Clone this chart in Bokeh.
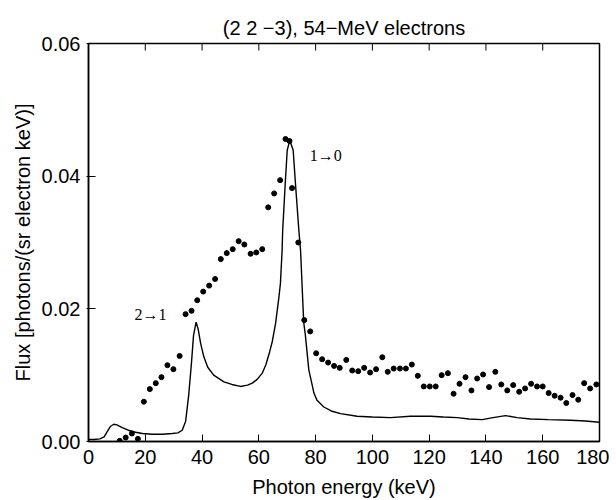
from bokeh.plotting import figure
from bokeh.models import FixedTicker, NumeralTickFormatter, Label, Range1d
from bokeh.embed import file_html
from bokeh.resources import INLINE

# Measured flux (dots)
dot_energy = [11.0, 13.1, 15.3, 17.4, 19.5, 21.6, 23.7, 25.7, 27.8, 29.9, 32.1, 34.2, 36.3, 38.3,
              40.4, 42.5, 44.6, 46.6, 48.7, 50.8, 52.9, 54.9, 57.1, 59.1, 61.2, 63.3, 65.4, 67.5,
              69.4, 70.8, 71.7, 73.9, 76.0, 78.1, 80.2, 82.3, 84.4, 86.5, 88.5, 90.8, 92.9, 95.0,
              97.1, 99.2, 101.3, 103.5, 105.4, 107.5, 109.7, 111.8, 113.9, 116.0, 118.1, 120.2,
              122.3, 124.4, 126.6, 128.6, 130.7, 132.8, 134.9, 136.9, 139.0, 141.1, 143.3, 145.4,
              147.5, 149.6, 151.7, 153.8, 155.9, 158.0, 160.0, 162.1, 164.2, 166.3, 168.3, 170.5,
              172.5, 174.6, 176.7, 178.9]
dot_flux = [0.0001, 0.0006, 0.0012, 0.0004, 0.0060, 0.0079, 0.0088, 0.0097, 0.0115, 0.0109, 0.0129,
            0.0192, 0.0197, 0.0213, 0.0226, 0.0235, 0.0245, 0.0275, 0.0284, 0.0290, 0.0302, 0.0297,
            0.0283, 0.0285, 0.0290, 0.0353, 0.0374, 0.0394, 0.0456, 0.0453, 0.0382, 0.0300, 0.0183,
            0.0166, 0.0133, 0.0124, 0.0119, 0.0114, 0.0111, 0.0123, 0.0107, 0.0106, 0.0111, 0.0104,
            0.0109, 0.0127, 0.0105, 0.0110, 0.0110, 0.0110, 0.0116, 0.0099, 0.0083, 0.0083, 0.0083,
            0.0100, 0.0103, 0.0072, 0.0087, 0.0097, 0.0077, 0.0095, 0.0101, 0.0082, 0.0105, 0.0086,
            0.0077, 0.0085, 0.0075, 0.0080, 0.0087, 0.0083, 0.0083, 0.0073, 0.0069, 0.0066, 0.0058,
            0.0070, 0.0063, 0.0088, 0.0080, 0.0086]

# Calculated flux (solid curve)
curve_energy = [0, 2, 4, 5.5, 6.6, 7.8, 8.9, 10, 11.9, 14, 16.6, 19, 22.4, 26, 29.5, 31.5, 33.0,
                34.2, 35.3, 36.3, 37.0, 37.9, 38.6, 39.5, 40.6, 42, 44.1, 47.7, 50.5, 53.5, 56,
                57.7, 59.5, 61.2, 62.5, 63.8, 64.7, 65.9, 67.0, 67.6, 68.2, 68.4, 69.3, 70.0, 70.9,
                72.1, 72.9, 74.1, 74.7, 75.8, 76.4, 77.6, 78.8, 79.4, 80.5, 82.9, 85.5, 88.8, 94.6,
                100, 106.4, 113.4, 117, 120.5, 125, 129.9, 134, 138.7, 142.5, 146.9, 151, 155.7,
                162, 169.8, 175, 180]
curve_flux = [0.0003, 0.0003, 0.0004, 0.0007, 0.0015, 0.0023, 0.0026, 0.0025, 0.0021, 0.0017,
              0.0014, 0.0012, 0.0011, 0.0011, 0.0012, 0.0013, 0.0017, 0.0030, 0.0070, 0.0120,
              0.0160, 0.0180, 0.0170, 0.0148, 0.0128, 0.0112, 0.0100, 0.0090, 0.0086, 0.0083,
              0.0085, 0.0088, 0.0094, 0.0103, 0.0116, 0.0135, 0.0150, 0.0178, 0.0215, 0.0238,
              0.0288, 0.0318, 0.0389, 0.0439, 0.0454, 0.0439, 0.0389, 0.0318, 0.0288, 0.0180,
              0.0160, 0.0108, 0.0085, 0.0073, 0.0062, 0.0052, 0.0046, 0.0042, 0.0038, 0.0037,
              0.0036, 0.0038, 0.0038, 0.0038, 0.0037, 0.0036, 0.0034, 0.0033, 0.0036, 0.0039,
              0.0036, 0.0034, 0.0033, 0.0032, 0.0031, 0.0029]

x_ticks = [0, 20, 40, 60, 80, 100, 120, 140, 160, 180]
y_ticks = [0.0, 0.02, 0.04, 0.06]
y_top = 0.06

FONT = "Liberation Sans"
SERIF = "Liberation Serif"

p = figure(frame_width=511, frame_height=398,
           x_range=Range1d(0, 180), y_range=Range1d(0, y_top),
           output_backend="svg", toolbar_location=None,
           min_border_left=88, min_border_right=10, min_border_top=43, min_border_bottom=50,
           background_fill_color="white", border_fill_color="white")

p.title.text = "(2 2 \u22123), 54\u2212MeV electrons"
p.title.align = "center"
p.title.text_font = FONT
p.title.text_font_size = "20px"
p.title.text_font_style = "normal"
p.title.text_color = "black"
p.title.standoff = 10

p.xgrid.visible = False
p.ygrid.visible = False
p.outline_line_color = "black"
p.outline_line_width = 1.5

p.line(curve_energy, curve_flux, line_color="black", line_width=1.4)
p.scatter(dot_energy, dot_flux, size=5, fill_color="black", line_color="black")

# inward tick marks along the top edge, at the x tick positions
p.ray(x=x_ticks, y=[y_top] * len(x_ticks), length=7, length_units="screen",
      angle=-90, angle_units="deg", line_color="black", line_width=1)

for ax in p.xaxis:
    ax.ticker = FixedTicker(ticks=x_ticks)
    ax.formatter = NumeralTickFormatter(format="0")
    ax.axis_label = "Photon energy (keV)"
    ax.major_tick_in = 7
    ax.major_tick_out = 0
    ax.minor_tick_in = 0
    ax.minor_tick_out = 0
    ax.major_label_standoff = 8
    ax.axis_label_standoff = 9
for ax in p.yaxis:
    ax.ticker = FixedTicker(ticks=y_ticks)
    ax.formatter = NumeralTickFormatter(format="0.00")
    ax.axis_label = "Flux [photons/(sr electron keV)]"
    ax.major_tick_in = 7
    ax.major_tick_out = 2
    ax.minor_tick_in = 0
    ax.minor_tick_out = 0
    ax.major_label_standoff = 6
    ax.axis_label_standoff = 5

for ax in list(p.xaxis) + list(p.yaxis):
    ax.axis_line_color = "black"
    ax.axis_line_width = 1.5
    ax.major_tick_line_color = "black"
    ax.major_tick_line_width = 1
    ax.major_label_text_font = FONT
    ax.major_label_text_font_size = "20px"
    ax.major_label_text_color = "black"
    ax.axis_label_text_font = FONT
    ax.axis_label_text_font_size = "20px"
    ax.axis_label_text_font_style = "normal"
    ax.axis_label_text_color = "black"

p.add_layout(Label(x=16.2, y=0.0192, text="2\u21921", text_font=SERIF, text_font_size="16px",
                   text_color="black", text_baseline="middle", text_align="left"))
p.add_layout(Label(x=77.9, y=0.0431, text="1\u21920", text_font=SERIF, text_font_size="16px",
                   text_color="black", text_baseline="middle", text_align="left"))

open("out.html", "w").write(file_html(p, INLINE))
